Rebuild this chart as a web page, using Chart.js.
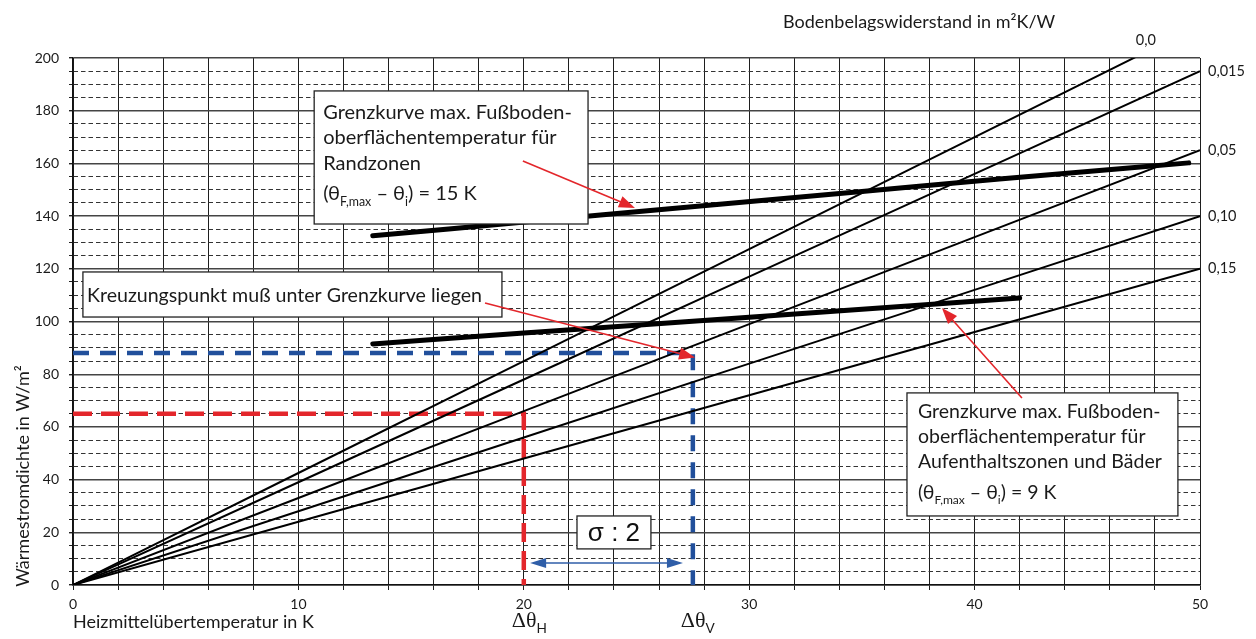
<!DOCTYPE html>
<html>
<head>
<meta charset="utf-8">
<script src="https://cdn.jsdelivr.net/npm/chart.js@4.4.1/dist/chart.umd.min.js"></script>
<style>
    html, body { margin: 0; padding: 0; background: #fff; }
    #wrap { width: 1256px; height: 639px; }
</style>
</head>
<body>
<div id="wrap"><canvas id="chart" width="1256" height="639"></canvas></div>
<script>
// Heizmittelübertemperatur in K, stützstellen der Kennlinien
const tempSteps = [0, 10, 20, 30, 40, 50];

// Wärmestromdichte je Bodenbelagswiderstand (m²K/W)
const resistanceLabels = ['0,0', '0,015', '0,05', '0,10', '0,15'];
const q000 = [0, 42.5, 85, 127.5, 170, 212.5];
const q0015 = [0, 39, 78, 117, 156, 195];
const q005 = [0, 33, 66, 99, 132, 165];
const q010 = [0, 28, 56, 84, 112, 140];
const q015 = [0, 24, 48, 72, 96, 120];

// Grenzkurve Randzonen (15 K)
const randTemp = [13.3, 23.4, 35, 41.1, 49.5];
const randQ = [132.5, 140.4, 149.3, 154.1, 160.2];

// Grenzkurve Aufenthaltszonen und Bäder (9 K)
const aufTemp = [13.3, 20, 30, 42];
const aufQ = [91.5, 95.6, 101.6, 108.9];

// Auslegungspunkte
const pointH = [20, 65];
const pointV = [27.5, 88];

const FONT = 'Lato, "Noto Sans", sans-serif';

function toXY(xs, ys) {
    return xs.map(function (v, i) { return { x: v, y: ys[i] }; });
}

function thinLine(values) {
    return {
        data: toXY(tempSteps, values),
        showLine: true,
        borderColor: '#000',
        borderWidth: 2,
        pointRadius: 0,
        tension: 0
    };
}

/**
 * Draws a line of text with subscript parts, starting at left/base
 */
function drawRich(ctx, parts, left, base, size) {
    let cx = left;
    for (const p of parts) {
        const s = p.sub ? size * 0.62 : size;
        ctx.font = s + 'px ' + (p.font || FONT);
        ctx.fillText(p.t, cx, base + (p.sub ? size * 0.28 : 0));
        cx += ctx.measureText(p.t).width;
    }
}

function arrowHead(ctx, x1, y1, x2, y2, len, half) {
    const a = Math.atan2(y2 - y1, x2 - x1);
    ctx.beginPath();
    ctx.moveTo(x2, y2);
    ctx.lineTo(x2 - len * Math.cos(a) + half * Math.sin(a), y2 - len * Math.sin(a) - half * Math.cos(a));
    ctx.lineTo(x2 - len * Math.cos(a) - half * Math.sin(a), y2 - len * Math.sin(a) + half * Math.cos(a));
    ctx.closePath();
    ctx.fill();
}

function arrow(ctx, x1, y1, x2, y2, color) {
    ctx.strokeStyle = color;
    ctx.fillStyle = color;
    ctx.lineWidth = 1.6;
    const a = Math.atan2(y2 - y1, x2 - x1);
    ctx.beginPath();
    ctx.moveTo(x1, y1);
    ctx.lineTo(x2 - 10 * Math.cos(a), y2 - 10 * Math.sin(a));
    ctx.stroke();
    arrowHead(ctx, x1, y1, x2, y2, 16, 6);
}

function textBox(ctx, x, y, x0, y0, x1, y1) {
    const l = x.getPixelForValue(x0), t = y.getPixelForValue(y0);
    const r = x.getPixelForValue(x1), b = y.getPixelForValue(y1);
    ctx.fillStyle = '#fff';
    ctx.fillRect(l, t, r - l, b - t);
    ctx.strokeStyle = '#222';
    ctx.lineWidth = 1.3;
    ctx.strokeRect(l, t, r - l, b - t);
    return { l: l, t: t };
}

const annotations = {
    id: 'annotations',
    afterDatasetsDraw(chart) {
        const { ctx } = chart;
        const x = chart.scales.x, y = chart.scales.y;
        const px = function (v) { return x.getPixelForValue(v); };
        const py = function (v) { return y.getPixelForValue(v); };
        ctx.save();
        ctx.textBaseline = 'alphabetic';
        ctx.textAlign = 'left';

        // Box Randzonen
        let b = textBox(ctx, x, y, 10.7, 187.5, 22.85, 137.0);
        ctx.fillStyle = '#1a1a1a';
        drawRich(ctx, [{ t: 'Grenzkurve max. Fußboden-' }], b.l + 9, b.t + 28, 20);
        drawRich(ctx, [{ t: 'oberflächentemperatur für' }], b.l + 9, b.t + 53, 20);
        drawRich(ctx, [{ t: 'Randzonen' }], b.l + 9, b.t + 79, 20);
        drawRich(ctx, [{ t: '(θ' }, { t: 'F,max', sub: true }, { t: ' – θ' }, { t: 'i', sub: true }, { t: ') = 15 K' }], b.l + 9, b.t + 109, 20);

        // Box Kreuzungspunkt
        b = textBox(ctx, x, y, 0.44, 118.8, 19.03, 101.7);
        ctx.fillStyle = '#1a1a1a';
        drawRich(ctx, [{ t: 'Kreuzungspunkt muß unter Grenzkurve liegen' }], b.l + 4, b.t + 30, 19.6);

        // Box Aufenthaltszonen
        b = textBox(ctx, x, y, 37.0, 72.9, 49.02, 26.2);
        ctx.fillStyle = '#1a1a1a';
        drawRich(ctx, [{ t: 'Grenzkurve max. Fußboden-' }], b.l + 11, b.t + 25, 19.5);
        drawRich(ctx, [{ t: 'oberflächentemperatur für' }], b.l + 11, b.t + 50, 19.5);
        drawRich(ctx, [{ t: 'Aufenthaltszonen und Bäder' }], b.l + 11, b.t + 75, 19.5);
        drawRich(ctx, [{ t: '(θ' }, { t: 'F,max', sub: true }, { t: ' – θ' }, { t: 'i', sub: true }, { t: ') = 9 K' }], b.l + 11, b.t + 106, 19.5);

        // sigma box
        b = textBox(ctx, x, y, 22.36, 26.2, 25.64, 13.7);
        ctx.fillStyle = '#111';
        ctx.textAlign = 'center';
        ctx.font = '26px "Liberation Sans", Arial, sans-serif';
        ctx.fillText('σ : 2', (px(22.36) + px(25.64)) / 2, b.t + 25);
        ctx.textAlign = 'left';

        // red arrows
        arrow(ctx, px(19.96), py(160.9), px(24.93), py(143.1), '#e3262b');
        arrow(ctx, px(18.28), py(107.0), px(27.6), py(86.3), '#e3262b');
        arrow(ctx, px(42.1), py(71.0), px(38.55), py(105.1), '#e3262b');

        // blue double arrow
        const ay = py(8.35);
        ctx.strokeStyle = '#2f5ea8';
        ctx.fillStyle = '#2f5ea8';
        ctx.lineWidth = 1.5;
        ctx.beginPath();
        ctx.moveTo(px(20.28) + 8, ay);
        ctx.lineTo(px(27.06) - 8, ay);
        ctx.stroke();
        arrowHead(ctx, px(27.06), ay, px(20.28), ay, 16, 5);
        arrowHead(ctx, px(20.28), ay, px(27.06), ay, 16, 5);

        ctx.restore();
    },
    afterDraw(chart) {
        const { ctx } = chart;
        const x = chart.scales.x, y = chart.scales.y;
        const px = function (v) { return x.getPixelForValue(v); };
        const py = function (v) { return y.getPixelForValue(v); };
        ctx.save();
        ctx.fillStyle = '#1a1a1a';

        // axis titles
        ctx.textBaseline = 'alphabetic';
        ctx.textAlign = 'left';
        ctx.font = '18px ' + FONT;
        ctx.fillText('Heizmittelübertemperatur in K', px(0), 628);
        ctx.fillText('Bodenbelagswiderstand in m²K/W', 783, 28);

        ctx.save();
        ctx.translate(29, 476);
        ctx.rotate(-Math.PI / 2);
        ctx.textAlign = 'center';
        ctx.fillText('Wärmestromdichte in W/m²', 0, 0);
        ctx.restore();

        // delta theta labels
        ctx.textAlign = 'left';
        const dh = [{ t: 'Δθ', font: '"Liberation Serif", serif' }, { t: 'H', sub: true }];
        const dv = [{ t: 'Δθ', font: '"Liberation Serif", serif' }, { t: 'V', sub: true }];
        drawRich(ctx, dh, px(pointH[0]) - 12, 627, 22);
        drawRich(ctx, dv, px(pointV[0]) - 12, 627, 22);

        // resistance labels at line ends
        ctx.font = '14.5px ' + FONT;
        ctx.textBaseline = 'middle';
        ctx.textAlign = 'center';
        ctx.fillText(resistanceLabels[0], px(47.6), py(200) - 18);
        ctx.textAlign = 'left';
        const ends = [q0015, q005, q010, q015];
        for (let i = 0; i < ends.length; i++) {
            ctx.fillText(resistanceLabels[i + 1], px(50) + 8, py(ends[i][ends[i].length - 1]));
        }
        ctx.restore();
    }
};

const chart = new Chart(document.getElementById('chart'), {
    type: 'scatter',
    data: {
        datasets: [
            thinLine(q000),
            thinLine(q0015),
            thinLine(q005),
            thinLine(q010),
            thinLine(q015),
            {
                data: toXY(randTemp, randQ),
                showLine: true, borderColor: '#000', borderWidth: 5, pointRadius: 0,
                cubicInterpolationMode: 'monotone', borderCapStyle: 'round'
            },
            {
                data: toXY(aufTemp, aufQ),
                showLine: true, borderColor: '#000', borderWidth: 5, pointRadius: 0,
                cubicInterpolationMode: 'monotone', borderCapStyle: 'round'
            },
            {
                data: [{ x: 0, y: pointH[1] }, { x: pointH[0], y: pointH[1] }, { x: pointH[0], y: 0 }],
                showLine: true, borderColor: '#e3262b', borderWidth: 4.5, pointRadius: 0,
                borderDash: [19, 9]
            },
            {
                data: [{ x: 0, y: pointV[1] }, { x: pointV[0], y: pointV[1] }, { x: pointV[0], y: 0 }],
                showLine: true, borderColor: '#214f9b', borderWidth: 4.5, pointRadius: 0,
                borderDash: [16, 11]
            }
        ]
    },
    options: {
        responsive: false,
        animation: false,
        layout: { padding: { left: 0, right: 56, top: 58, bottom: 24 } },
        plugins: {
            legend: { display: false },
            tooltip: { enabled: false }
        },
        scales: {
            x: {
                type: 'linear',
                min: 0,
                max: 50,
                afterFit: function (s) { s.height = 30; },
                ticks: {
                    stepSize: 2,
                    maxTicksLimit: 60,
                    autoSkip: false,
                    maxRotation: 0,
                    padding: 6,
                    color: '#1a1a1a',
                    font: { family: FONT, size: 14 },
                    callback: function (v) { return v % 10 === 0 ? v : ''; }
                },
                grid: { color: '#1e1e1e', lineWidth: 1, tickLength: 5, tickColor: '#1e1e1e' },
                border: { display: true, color: '#111', width: 1.5 }
            },
            y: {
                type: 'linear',
                min: 0,
                max: 200,
                afterFit: function (s) { s.width = 73; },
                ticks: {
                    stepSize: 5,
                    maxTicksLimit: 60,
                    autoSkip: false,
                    padding: 10,
                    color: '#1a1a1a',
                    font: { family: FONT, size: 14 },
                    callback: function (v) { return v % 20 === 0 ? v : ''; }
                },
                grid: {
                    color: function (c) { return c.tick && c.tick.value % 20 === 0 ? '#444' : '#333'; },
                    lineWidth: function (c) { return c.tick && c.tick.value % 20 === 0 ? 1.4 : 1; },
                    tickLength: 4,
                    tickColor: '#222'
                },
                border: {
                    display: true, color: '#111', width: 1.5,
                    dash: function (c) { return c.tick && c.tick.value % 20 !== 0 ? [4.5, 3] : []; }
                }
            }
        }
    },
    plugins: [annotations]
});
</script>
</body>
</html>
